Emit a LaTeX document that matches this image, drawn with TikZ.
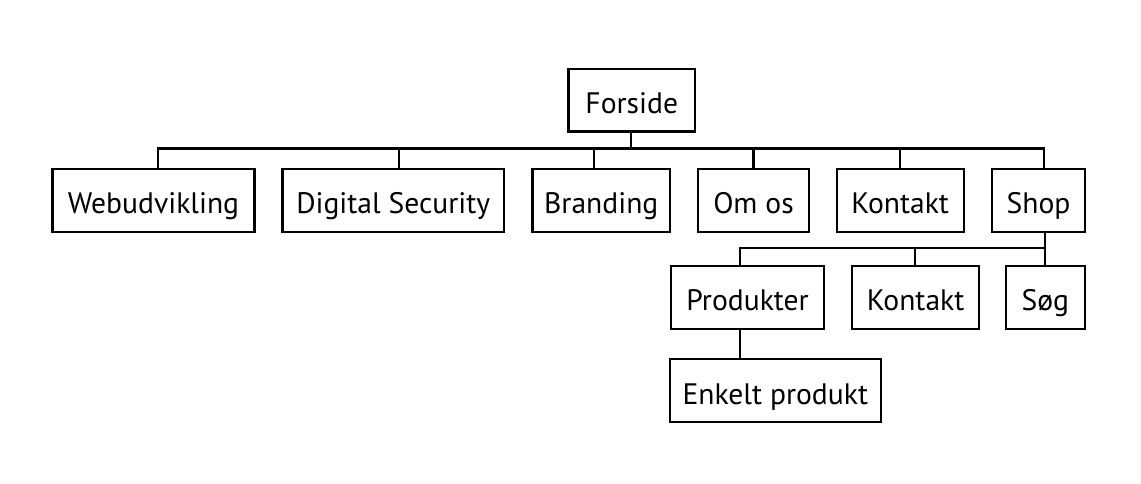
\documentclass[tikz,border=0pt]{standalone}
\usepackage{fontspec}
\setmainfont{PT Sans}
\begin{document}
\begin{tikzpicture}[x=1pt,y=-1pt,
  box/.style={draw, line width=2.1pt, rectangle, inner sep=0pt, minimum height=63pt, text height=27pt, text depth=0pt, font=\fontsize{29.6}{32}\selectfont},
  conn/.style={line width=2.1pt, line join=miter}]
\useasboundingbox (0,0) rectangle (1141,484);
\node[box, minimum width=126.5pt, minimum height=62.5pt] (forside) at (631.75,100.25) {Forside};
\node[box, minimum width=202pt] (web) at (153.5,200.5) {Webudvikling};
\node[box, minimum width=221.5pt] (dig) at (393.25,200.5) {Digital Security};
\node[box, minimum width=137.5pt] (brand) at (601.25,200.5) {Branding};
\node[box, minimum width=111pt] (omos) at (753.5,200.5) {Om os};
\node[box, minimum width=127pt] (kontakt) at (900.2,200.5) {Kontakt};
\node[box, minimum width=93pt] (shop) at (1038.5,200.5) {Shop};
\node[box, minimum width=153pt] (prod) at (747.6,297.4) {Produkter};
\node[box, minimum width=126.7pt] (kontakt2) at (915.6,297.4) {Kontakt};
\node[box, minimum width=79.3pt] (sog) at (1045.3,297.4) {Søg};
\node[box, minimum width=210.7pt] (enkelt) at (775.3,390.7) {Enkelt produkt};
\coordinate (bus) at (0,148.5);
\coordinate (bus2) at (0,248.3);
% top level
\draw[conn] ([xshift=-1pt]forside.south) -- ([xshift=-1pt]forside.south |- bus);
\draw[conn] ([xshift=4.5pt]web.north) -- ([xshift=4.5pt]web.north |- bus) -- ([xshift=5.5pt]shop.north |- bus) -- ([xshift=5.5pt]shop.north);
\draw[conn] ([xshift=6pt]dig.north) -- ([xshift=6pt]dig.north |- bus);
\draw[conn] ([xshift=-7pt]brand.north) -- ([xshift=-7pt]brand.north |- bus);
\draw[conn] (omos.north) -- (omos.north |- bus);
\draw[conn] (kontakt.north) -- (kontakt.north |- bus);
% shop level
\draw[conn] ([xshift=6.5pt]shop.south) -- ([xshift=6.5pt]shop.south |- sog.north);
\draw[conn] ([xshift=-7.6pt]prod.north) -- ([xshift=-7.6pt]prod.north |- bus2) -- ([xshift=6.5pt]shop.south |- bus2);
\draw[conn] ([xshift=-0.6pt]kontakt2.north) -- ([xshift=-0.6pt]kontakt2.north |- bus2);
% produkter
\draw[conn] ([xshift=-7.6pt]prod.south) -- ([xshift=-7.6pt]prod.south |- enkelt.north);
\end{tikzpicture}
\end{document}
